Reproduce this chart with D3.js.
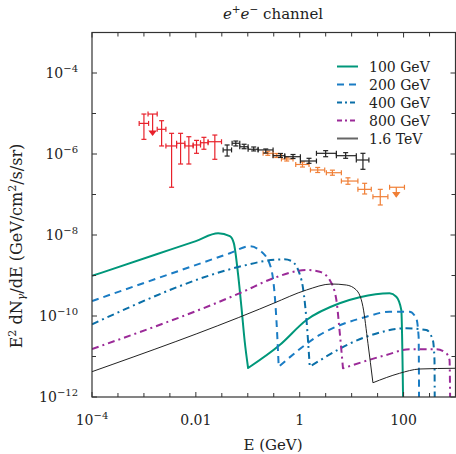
<!doctype html>
<html>
<head>
<meta charset="utf-8">
<script src="https://d3js.org/d3.v7.min.js"></script>
<style>
  body { margin: 0; background: #fff; }
  svg text { font-family: "DejaVu Serif", "Liberation Serif", serif; fill: #222; }
</style>
</head>
<body>
<script>
// ---- model curves: photon energy E (GeV) and E^2 dN/dE ----
// each model: ICS part (rising, cut off) then FSR part (second bump up to the mass)
var e100 = [1e-4, 1.75e-3, 1e-2, 2.69e-2, 4.51e-2, 5.38e-2, 6.52e-2, 7.57e-2, 8.75e-2, 0.1014,
            0.412, 1.35, 5.87, 14.3, 53.8, 72.4, 90.4, 100];
var f100 = [9.77e-10, 3.35e-9, 7.08e-9, 1.10e-8, 9.33e-9, 6.31e-9, 1.03e-9, 1.58e-10, 2.28e-11, 5.2e-12,
            1.92e-11, 7.96e-11, 2.06e-10, 2.90e-10, 3.63e-10, 3.0e-10, 1.41e-10, 1e-13];

var e200 = [1e-4, 4.51e-2, 0.109, 0.197, 0.286, 0.356, 0.394,
            2.43, 19.2, 53.8, 130, 175, 195, 200];
var f200 = [2.34e-10, 3.55e-9, 5.25e-9, 3.55e-9, 1.37e-9, 7.96e-11, 5.6e-12,
            3.4e-11, 9.6e-11, 1.28e-10, 1.28e-10, 8.8e-11, 3.08e-11, 1e-13];

var e400 = [1e-4, 9.44e-2, 0.229, 0.501, 0.692, 1.08, 1.35, 1.56,
            19.2, 113, 274, 366, 394, 400];
var f400 = [6.24e-11, 1.82e-9, 2.32e-9, 2.51e-9, 2.29e-9, 7.74e-10, 7.96e-11, 5.6e-12,
            3.08e-11, 4.97e-11, 4.5e-11, 2.55e-11, 8.2e-12, 1e-13];

var e800 = [1e-4, 8.13e-2, 0.307, 1.35, 2.43, 3.78, 5.08, 5.89, 6.81,
            46.5, 130, 426, 662, 767, 800];
var f800 = [1.53e-11, 3.98e-10, 8.51e-10, 1.37e-9, 1.24e-9, 7.74e-10, 2.48e-10, 3.98e-11, 5.12e-12,
            1.09e-11, 1.51e-11, 1.51e-11, 1.2e-11, 8.2e-12, 1e-13];

var e1600 = [1e-4, 0.170, 0.307, 1.35, 4.07, 7.91, 12.3, 16.5, 20.6, 25.7,
             83.8, 203, 1000];
var f1600 = [4.22e-12, 1.49e-10, 2.04e-10, 4.39e-10, 6.17e-10, 5.82e-10, 4.39e-10, 1.70e-10, 2.12e-11, 2.25e-12,
             3.85e-12, 4.91e-12, 5.12e-12];

var modelNames = ["100 GeV", "200 GeV", "400 GeV", "800 GeV", "1.6 TeV"];

// ---- data points: [E, Elo, Ehi, flux, fluxLo, fluxHi] ----
var redPts = [
  [1.0e-3, 8.1e-4, 1.23e-3, 5.7e-6, 2.3e-6, 9.7e-6],
  [2.19e-3, 1.8e-3, 2.65e-3, 4.07e-6, 1.58e-6, 6.64e-6],
  [3.41e-3, 2.65e-3, 4.26e-3, 1.58e-6, 1.51e-7, 3.24e-6],
  [5.08e-3, 4.26e-3, 6.14e-3, 1.84e-6, 5.66e-7, 3.24e-6],
  [7.33e-3, 6.14e-3, 8.87e-3, 1.58e-6, 5.66e-7, 2.67e-6],
  [1.03e-2, 8.87e-3, 1.23e-2, 1.67e-6, 1.04e-6, 2.17e-6],
  [1.43e-2, 1.23e-2, 1.72e-2, 1.9e-6, 1.31e-6, 2.58e-6],
  [2.32e-2, 1.72e-2, 3.12e-2, 2.01e-6, 7.4e-7, 2.94e-6]
];
// upper limits: [E, Elo, Ehi, limit, arrowTip]
var redUL = [[1.47e-3, 1.2e-3, 1.8e-3, 9.7e-6, 2.94e-6]];

var blackPts = [
  [0.040, 0.0335, 0.0487, 1.26e-6, 8.9e-7, 1.67e-6],
  [0.0588, 0.0499, 0.0701, 1.84e-6, 1.58e-6, 2.09e-6],
  [0.0849, 0.0701, 0.1014, 1.51e-6, 1.35e-6, 1.74e-6],
  [0.130, 0.1014, 0.158, 1.31e-6, 1.19e-6, 1.49e-6],
  [0.222, 0.158, 0.307, 1.26e-6, 1.06e-6, 1.33e-6],
  [0.426, 0.307, 0.515, 9.08e-7, 8.2e-7, 1.03e-6],
  [0.743, 0.515, 1.03, 8.57e-7, 7.74e-7, 9.72e-7],
  [1.51, 1.03, 2.10, 6.71e-7, 5.89e-7, 7.83e-7],
  [3.16, 2.10, 5.08, 1.04e-6, 8.57e-7, 1.21e-6],
  [7.67, 5.08, 12.3, 9.08e-7, 7.83e-7, 1.08e-6],
  [16.5, 12.3, 21.5, 7.11e-7, 4.19e-7, 1.04e-6]
];

var orangePts = [
  [0.243, 0.197, 0.307, 1.04e-6, 9.27e-7, 1.17e-6],
  [0.361, 0.307, 0.445, 9.18e-7, 8.2e-7, 1.03e-6],
  [0.562, 0.445, 0.743, 7.54e-7, 6.71e-7, 8.4e-7],
  [1.13, 0.838, 1.51, 5.51e-7, 4.77e-7, 6.34e-7],
  [2.22, 1.61, 3.03, 4.03e-7, 3.49e-7, 4.65e-7],
  [4.26, 3.26, 6.34, 3.45e-7, 2.99e-7, 3.99e-7],
  [8.49, 6.34, 13.2, 2.15e-7, 1.79e-7, 2.58e-7],
  [17.8, 13.2, 23.9, 1.34e-7, 1.03e-7, 1.89e-7],
  [35.6, 25.7, 49.9, 8.83e-8, 5.51e-8, 1.34e-7]
];
var orangeUL = [[72.4, 53.8, 104, 1.51e-7, 8.83e-8]];

// ---- ticks ----
var xMajor = [1e-4, 1e-2, 1, 100];
var xMajorLabels = [["10", "\u22124"], ["0.01"], ["1"], ["100"]];
var xMinor = [3.162e-4, 1e-3, 3.162e-3, 3.162e-2, 0.1, 0.3162, 3.162, 10, 31.62, 316.2];
var yMajor = [1e-12, 1e-10, 1e-8, 1e-6, 1e-4];
var yMajorLabels = ["\u221212", "\u221210", "\u22128", "\u22126", "\u22124"];
var yMinor = [1e-11, 1e-9, 1e-7, 1e-5];

// ---- layout ----
var W = 456, H = 454;
var L = 92, R = 455.5, T = 32.5, B = 397;
var FONT = "'DejaVu Serif', 'Liberation Serif', serif";

var svg = d3.select("body").append("svg")
  .attr("width", W).attr("height", H)
  .attr("font-family", FONT);

var x = d3.scaleLog().domain([1e-4, 1e3]).range([L, R]);
var y = d3.scaleLog().domain([1e-12, 1e-3]).range([B, T]);

svg.append("clipPath").attr("id", "plot")
  .append("rect").attr("x", L).attr("y", T).attr("width", R - L).attr("height", B - T);

// model lines
var models = [
  {e: e100, f: f100, color: "#00977a", width: 2, dash: null},
  {e: e200, f: f200, color: "#1a7cc4", width: 2, dash: "7,5"},
  {e: e400, f: f400, color: "#0a6fa8", width: 2, dash: "7,4,2,4"},
  {e: e800, f: f800, color: "#9b2a98", width: 2, dash: "7,4,2,4"},
  {e: e1600, f: f1600, color: "#222", width: 1, dash: null}
];

var smooth = d3.line()
  .x(function(d) { return x(d[0]); })
  .y(function(d) { return y(d[1]); })
  .curve(d3.curveMonotoneX);

var gLines = svg.append("g").attr("clip-path", "url(#plot)");
models.forEach(function(m) {
  var pts = m.e.map(function(v, i) { return [v, m.f[i]]; });
  // split at the dip between the two bumps so the corner stays sharp
  var k = 1;
  while (k < pts.length - 1 && !(pts[k][1] < pts[k - 1][1] && pts[k][1] < pts[k + 1][1])) k++;
  var d = smooth(pts.slice(0, k + 1)) + smooth(pts.slice(k)).replace(/^M/, "L");
  gLines.append("path")
    .attr("d", d)
    .attr("fill", "none")
    .attr("stroke", m.color)
    .attr("stroke-width", m.width)
    .attr("stroke-linejoin", "round")
    .attr("stroke-dasharray", m.dash);
});

// error bars
function drawPoints(pts, color) {
  var g = svg.append("g").attr("stroke", color).attr("stroke-width", 1.2).attr("fill", "none");
  pts.forEach(function(p) {
    var cx = x(p[0]), cy = y(p[3]);
    var x0 = x(p[1]), x1 = x(p[2]), y0 = y(p[4]), y1 = y(p[5]);
    g.append("line").attr("x1", x0).attr("x2", x1).attr("y1", cy).attr("y2", cy);
    g.append("line").attr("x1", x0).attr("x2", x0).attr("y1", cy - 2.5).attr("y2", cy + 2.5);
    g.append("line").attr("x1", x1).attr("x2", x1).attr("y1", cy - 2.5).attr("y2", cy + 2.5);
    g.append("line").attr("x1", cx).attr("x2", cx).attr("y1", y0).attr("y2", y1);
    g.append("line").attr("x1", cx - 2.5).attr("x2", cx + 2.5).attr("y1", y0).attr("y2", y0);
    g.append("line").attr("x1", cx - 2.5).attr("x2", cx + 2.5).attr("y1", y1).attr("y2", y1);
  });
}
function drawUL(pts, color) {
  var g = svg.append("g").attr("stroke", color).attr("stroke-width", 1.2).attr("fill", "none");
  pts.forEach(function(p) {
    var cx = x(p[0]), cy = y(p[3]);
    var x0 = x(p[1]), x1 = x(p[2]), tip = y(p[4]);
    g.append("line").attr("x1", x0).attr("x2", x1).attr("y1", cy).attr("y2", cy);
    g.append("line").attr("x1", x0).attr("x2", x0).attr("y1", cy - 2.5).attr("y2", cy + 2.5);
    g.append("line").attr("x1", x1).attr("x2", x1).attr("y1", cy - 2.5).attr("y2", cy + 2.5);
    g.append("line").attr("x1", cx).attr("x2", cx).attr("y1", cy).attr("y2", tip);
    g.append("path")
      .attr("d", "M" + (cx - 3) + "," + (tip - 4) + "L" + cx + "," + tip + "L" + (cx + 3) + "," + (tip - 4) + "Z")
      .attr("fill", color);
  });
}
drawPoints(redPts, "#e8212b");
drawUL(redUL, "#e8212b");
drawPoints(orangePts, "#f07f36");
drawUL(orangeUL, "#f07f36");
drawPoints(blackPts, "#222");

// frame and ticks
var axisColor = "#333";
svg.append("rect").attr("x", L).attr("y", T).attr("width", R - L).attr("height", B - T)
  .attr("fill", "none").attr("stroke", axisColor).attr("stroke-width", 1.2);

var gt = svg.append("g").attr("stroke", axisColor).attr("stroke-width", 1);
function xTick(v, len) {
  var px = x(v);
  gt.append("line").attr("x1", px).attr("x2", px).attr("y1", B).attr("y2", B - len);
  gt.append("line").attr("x1", px).attr("x2", px).attr("y1", T).attr("y2", T + len);
}
function yTick(v, len) {
  var py = y(v);
  gt.append("line").attr("x1", L).attr("x2", L + len).attr("y1", py).attr("y2", py);
  gt.append("line").attr("x1", R).attr("x2", R - len).attr("y1", py).attr("y2", py);
}
xMajor.forEach(function(v) { xTick(v, 5); });
xMinor.forEach(function(v) { xTick(v, 4); });
yMajor.forEach(function(v) { yTick(v, 5); });
yMinor.forEach(function(v) { yTick(v, 4); });

var FS = 14, SS = 10;

// x tick labels
xMajor.forEach(function(v, i) {
  var lab = xMajorLabels[i];
  var t = svg.append("text").attr("x", x(v)).attr("y", 425).attr("text-anchor", "middle")
    .attr("font-size", FS);
  t.append("tspan").text(lab[0]);
  if (lab.length > 1) {
    t.append("tspan").attr("dy", -6).attr("font-size", SS).text(lab[1]);
  }
});

// y tick labels
yMajor.forEach(function(v, i) {
  var t = svg.append("text").attr("x", 78).attr("y", y(v) + 5).attr("text-anchor", "end")
    .attr("font-size", FS);
  t.append("tspan").text("10");
  t.append("tspan").attr("dy", -6).attr("font-size", SS).text(yMajorLabels[i]);
});

// title
var title = svg.append("text").attr("x", 273).attr("y", 19).attr("text-anchor", "middle").attr("font-size", 15);
title.append("tspan").attr("font-style", "italic").text("e");
title.append("tspan").attr("dy", -6).attr("font-size", 10.5).text("+");
title.append("tspan").attr("dy", 6).attr("font-style", "italic").text("e");
title.append("tspan").attr("dy", -6).attr("font-size", 10.5).text("\u2212");
title.append("tspan").attr("dy", 6).text(" channel");

// x axis label
svg.append("text").attr("x", 273).attr("y", 450).attr("text-anchor", "middle")
  .attr("font-size", 15).text("E (GeV)");

// y axis label
var yl = svg.append("text").attr("transform", "translate(22,246) rotate(-90)")
  .attr("text-anchor", "middle").attr("font-size", 16);
yl.append("tspan").text("E");
yl.append("tspan").attr("dy", -6).attr("font-size", 11).text("2");
yl.append("tspan").attr("dy", 6).text(" dN");
yl.append("tspan").attr("dy", 3).attr("font-size", 11).attr("font-style", "italic").text("\u03b3");
yl.append("tspan").attr("dy", -3).text("/dE (GeV/cm");
yl.append("tspan").attr("dy", -6).attr("font-size", 11).text("2");
yl.append("tspan").attr("dy", 6).text("/s/sr)");

// legend
var lg = svg.append("g");
modelNames.forEach(function(name, i) {
  var m = models[i], ly = 66.5 + i * 18;
  lg.append("line").attr("x1", 337).attr("x2", 358).attr("y1", ly).attr("y2", ly)
    .attr("stroke", i === 4 ? "#666" : m.color).attr("stroke-width", 2)
    .attr("stroke-dasharray", m.dash ? (i === 1 ? "7,5" : "5,3,2,3") : null);
  lg.append("text").attr("x", 369).attr("y", ly + 5).attr("font-size", 14).text(name);
});
</script>
</body>
</html>
